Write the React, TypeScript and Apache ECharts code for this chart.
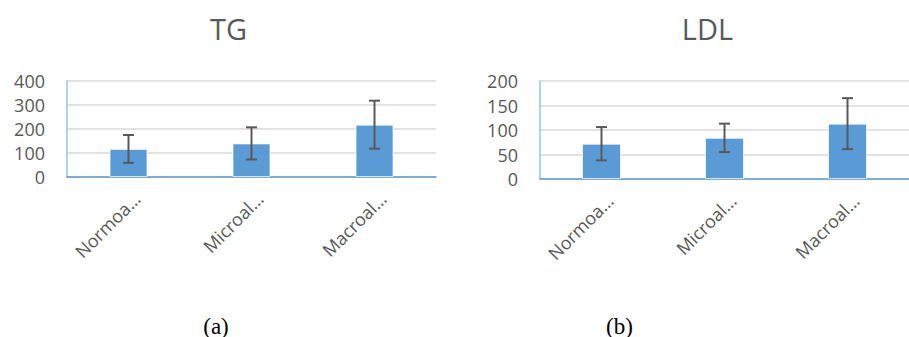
import React, { useEffect, useRef } from "react";
import * as echarts from "echarts";

const categories = ["Normoa…", "Microal…", "Macroal…"];
const tgMean = [117, 140, 218];
const tgSd = [58, 67, 100];
const ldlMean = [72, 84, 113];
const ldlSd = [34, 29, 52];
const tgTicks = { min: 0, max: 400, interval: 100 };
const ldlTicks = { min: 0, max: 200, interval: 50 };
const titles = ["TG", "LDL"];
const captions = ["(a)", "(b)"];

const FONT = "'Open Sans', 'Noto Sans', sans-serif";
const GREY = "#595959";
const BAR = "#5B9BD5";

function errData(mean: number[], sd: number[]) {
  return mean.map((m, i) => [i, m - sd[i], m + sd[i]]);
}

function errRender(params: any, api: any) {
  const idx = api.value(0);
  const lo = api.coord([idx, api.value(1)]);
  const hi = api.coord([idx, api.value(2)]);
  const half = 5.5;
  const style = { stroke: "#595959", lineWidth: 2 };
  return {
    type: "group",
    children: [
      { type: "line", shape: { x1: hi[0], y1: hi[1], x2: lo[0], y2: lo[1] }, style },
      { type: "line", shape: { x1: hi[0] - half, y1: hi[1], x2: hi[0] + half, y2: hi[1] }, style },
      { type: "line", shape: { x1: lo[0] - half, y1: lo[1], x2: lo[0] + half, y2: lo[1] }, style },
    ],
  };
}

export default function App() {
  const ref = useRef<HTMLDivElement>(null);
  useEffect(() => {
    document.body.style.margin = "0";
    const chart = echarts.init(ref.current!, null, { renderer: "svg" });
    const xAxisBase = (gridIndex: number) => ({
      type: "category",
      gridIndex,
      data: categories,
      axisLine: { show: true, lineStyle: { color: BAR, width: 1.5 } },
      axisTick: { show: false },
      axisLabel: {
        rotate: 45,
        interval: 0,
        margin: 27,
        padding: [0, -12, 0, 0],
        color: GREY,
        fontSize: 18,
        fontFamily: FONT,
      },
    });
    const yAxisBase = (gridIndex: number, t: any) => ({
      type: "value",
      gridIndex,
      min: t.min,
      max: t.max,
      interval: t.interval,
      axisLine: { show: true, lineStyle: { color: "#9DC3E6", width: 1.5 } },
      axisTick: { show: false },
      splitLine: { lineStyle: { color: "#D9D9D9", width: 1.5 } },
      axisLabel: { color: GREY, fontSize: 18, fontFamily: FONT, margin: 22 },
    });
    chart.setOption({
      animation: false,
      grid: [
        { left: 67, top: 81, width: 369, height: 96 },
        { left: 540, top: 81, width: 378, height: 98 },
      ],
      xAxis: [xAxisBase(0), xAxisBase(1)],
      yAxis: [yAxisBase(0, tgTicks), yAxisBase(1, ldlTicks)],
      series: [
        {
          type: "bar",
          xAxisIndex: 0,
          yAxisIndex: 0,
          data: tgMean,
          barWidth: 38,
          itemStyle: { color: BAR, borderColor: "rgba(255,255,255,0.7)", borderWidth: 1 },
        },
        {
          type: "custom",
          xAxisIndex: 0,
          yAxisIndex: 0,
          data: errData(tgMean, tgSd),
          renderItem: errRender,
          z: 5,
        },
        {
          type: "bar",
          xAxisIndex: 1,
          yAxisIndex: 1,
          data: ldlMean,
          barWidth: 39,
          itemStyle: { color: BAR, borderColor: "rgba(255,255,255,0.7)", borderWidth: 1 },
        },
        {
          type: "custom",
          xAxisIndex: 1,
          yAxisIndex: 1,
          data: errData(ldlMean, ldlSd),
          renderItem: errRender,
          z: 5,
        },
      ],
      graphic: [
        {
          type: "text",
          x: 228.5,
          y: 28,
          style: { text: titles[0], fill: GREY, font: `29px ${FONT}`, textAlign: "center", textVerticalAlign: "middle" },
        },
        {
          type: "text",
          x: 707.5,
          y: 28,
          style: { text: titles[1], fill: GREY, font: `29px ${FONT}`, textAlign: "center", textVerticalAlign: "middle" },
        },
        {
          type: "text",
          x: 216,
          y: 326,
          style: { text: captions[0], fill: "#000", font: `23px 'Liberation Serif', serif`, textAlign: "center", textVerticalAlign: "middle" },
        },
        {
          type: "text",
          x: 619.5,
          y: 326,
          style: { text: captions[1], fill: "#000", font: `23px 'Liberation Serif', serif`, textAlign: "center", textVerticalAlign: "middle" },
        },
      ],
    });
    return () => chart.dispose();
  }, []);
  return <div ref={ref} style={{ width: 909, height: 337, background: "#fff" }} />;
}
